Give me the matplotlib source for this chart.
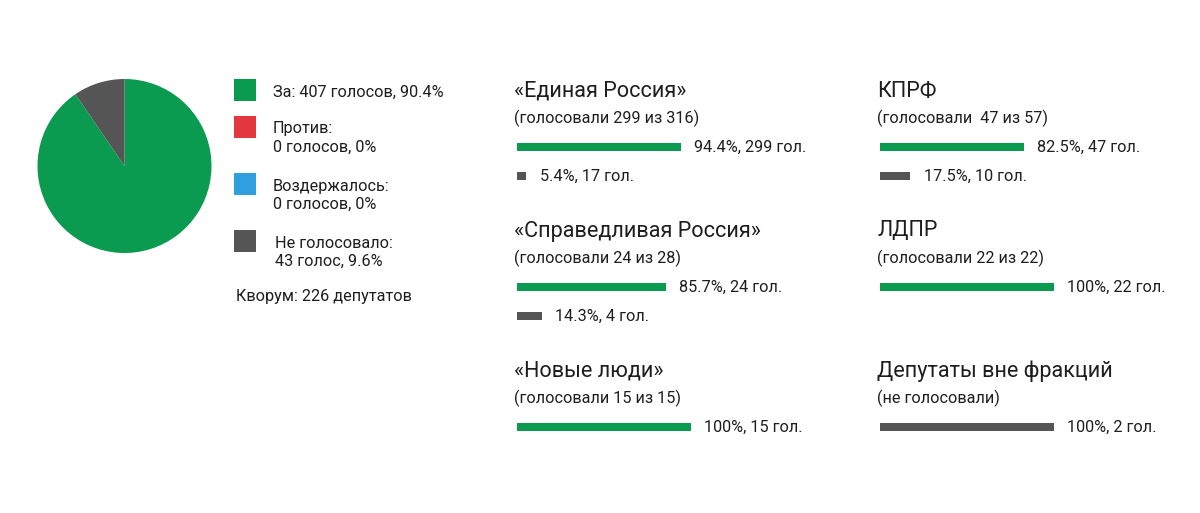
import matplotlib
matplotlib.use("Agg")
import matplotlib.pyplot as plt
from matplotlib.patches import Rectangle

plt.rcParams["font.family"] = ["Roboto", "DejaVu Sans"]

# overall result
vote_labels = ["За: 407 голосов, 90.4%", "Против:\n0 голосов, 0%",
               "Воздержалось:\n0 голосов, 0%", "Не голосовало:\n43 голос, 9.6%"]
vote_counts = [407, 0, 0, 43]
vote_colors = ["#0a9a50", "#e3393e", "#2f9fe0", "#555555"]
quorum = "Кворум: 226 депутатов"

# factions
factions = ["«Единая Россия»", "«Справедливая Россия»", "«Новые люди»",
            "КПРФ", "ЛДПР", "Депутаты вне фракций"]
subtitles = ["(голосовали 299 из 316)", "(голосовали 24 из 28)", "(голосовали 15 из 15)",
             "(голосовали  47 из 57)", "(голосовали 22 из 22)", "(не голосовали)"]
for_pct = [94.4, 85.7, 100, 82.5, 100, 0]
for_votes = [299, 24, 15, 47, 22, 0]
absent_pct = [5.4, 14.3, 0, 17.5, 0, 100]
absent_votes = [17, 4, 0, 10, 0, 2]

W, H = 1200, 513
GREEN, GREY, TXT = vote_colors[0], vote_colors[3], "#1e1e1e"
FS = 11.7     # body text
FS_T = 15.6   # faction titles

fig = plt.figure(figsize=(W / 100, H / 100), dpi=100)

def px_axes(x0, y0, w, h):
    # axes from pixel box (top-left origin)
    return fig.add_axes([x0 / W, 1 - (y0 + h) / H, w / W, h / H])

# pie
cx, cy, r = 124.5, 166, 87
pax = px_axes(cx - r, cy - r, 2 * r, 2 * r)
pax.pie(vote_counts, colors=vote_colors, startangle=90, counterclock=False,
        radius=1, wedgeprops=dict(linewidth=0))
pax.set_xlim(-1, 1)
pax.set_ylim(-1, 1)
pax.set_aspect("equal")
pax.axis("off")

# overlay in pixel coordinates for text
ov = fig.add_axes([0, 0, 1, 1])
ov.set_xlim(0, W)
ov.set_ylim(H, 0)
ov.axis("off")

leg_y = [90, 127, 184, 241]
text_x = [273, 273, 273, 275]
for lab, col, y, tx in zip(vote_labels, vote_colors, leg_y, text_x):
    ov.add_patch(Rectangle((234, y - 11), 22, 22, color=col, lw=0))
    lines = lab.split("\n")
    for i, ln in enumerate(lines):
        ov.text(tx, y + 2 + i * 18.5, ln, fontsize=FS, color=TXT, va="center", ha="left")
ov.text(236, 297, quorum, fontsize=FS, color=TXT, va="center", ha="left")

# faction bar groups
col_x = [517, 517, 517, 880, 880, 880]
row_y = [147, 287, 427, 147, 287, 427]
full_w = 174
row_step = 29

for i, name in enumerate(factions):
    x0, y0 = col_x[i], row_y[i]
    ov.text(x0 - 3, y0 - 56, name, fontsize=FS_T, color=TXT, va="center", ha="left")
    ov.text(x0 - 3, y0 - 29, subtitles[i], fontsize=FS, color=TXT, va="center", ha="left")

    ax = px_axes(x0, y0 - row_step / 2, full_w, 2 * row_step)
    ax.set_xlim(0, 100)
    ax.set_ylim(1.5, -0.5)
    ax.axis("off")
    rows = []
    if for_pct[i] > 0:
        rows.append((for_pct[i], for_votes[i], GREEN))
    if absent_pct[i] > 0:
        rows.append((absent_pct[i], absent_votes[i], GREY))
    for k, (p, v, c) in enumerate(rows):
        ax.barh(k, p, height=0.28, color=c, lw=0)
        ax.annotate(f"{p:g}%, {v} гол.", xy=(p, k), xytext=(9.5, 0),
                    textcoords="offset points", fontsize=FS, color=TXT,
                    va="center", ha="left", annotation_clip=False)

fig.savefig("out.png", dpi=100, facecolor="white")
